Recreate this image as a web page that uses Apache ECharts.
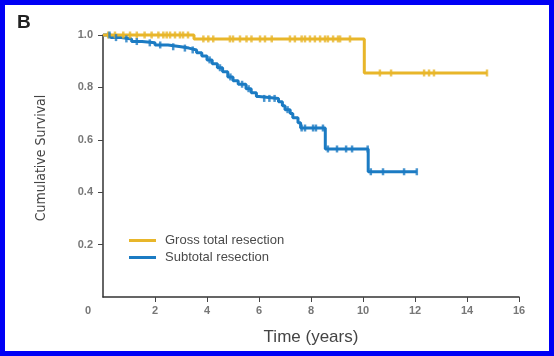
<!DOCTYPE html>
<html>
<head>
<meta charset="utf-8">
<script src="https://cdn.jsdelivr.net/npm/echarts@6/dist/echarts.min.js"></script>
<style>
  html, body { margin: 0; padding: 0; background: #0000f5; }
  #chart { position: absolute; left: 5px; top: 5px; width: 544px; height: 346px; background: #fff; }
</style>
</head>
<body>
<div id="chart"></div>
<script>
// tick labels
const xTicks = [0, 2, 4, 6, 8, 10, 12, 14, 16];
const xTickMarks = [2, 4, 6, 8, 10, 12, 14, 16];
const yTicks = [0.2, 0.4, 0.6, 0.8, 1.0];

// gross total resection: step times / survival after step
const gtrTimes = [0, 3.5, 10.05];
const gtrSurv = [1.0, 0.985, 0.855];
const gtrEnd = 14.77;
const gtrCensor = [0.2, 0.46, 0.78, 1.04, 1.3, 1.6, 1.87, 2.13, 2.32, 2.45, 2.58, 2.77, 2.96, 3.08, 3.27,
    3.86, 4.05, 4.24, 4.88, 5.0, 5.27, 5.52, 5.71, 6.04, 6.23, 6.49, 7.19, 7.38, 7.64, 7.77, 7.96,
    8.15, 8.35, 8.54, 8.65, 8.85, 9.04, 9.12, 9.5, 10.65, 11.08, 12.35, 12.54, 12.73, 14.77];

// subtotal resection
const strTimes = [0, 0.3, 0.7, 1.1, 1.5, 2.0, 2.5, 3.0, 3.3, 3.6, 3.8, 4.0, 4.2, 4.4, 4.6, 4.8, 5.0,
    5.2, 5.5, 5.7, 5.9, 6.0, 6.75, 6.9, 7.0, 7.2, 7.3, 7.5, 7.6, 8.55, 10.2];
const strSurv = [1.0, 0.99, 0.985, 0.975, 0.97, 0.962, 0.955, 0.95, 0.943, 0.932, 0.92, 0.905, 0.89,
    0.875, 0.86, 0.84, 0.825, 0.812, 0.795, 0.78, 0.765, 0.758, 0.745, 0.73, 0.715, 0.7, 0.684,
    0.665, 0.645, 0.565, 0.478];
const strEnd = 12.07;
const strCensor = [0.25, 0.5, 0.9, 1.3, 1.8, 2.2, 2.7, 3.15, 3.45, 4.1, 4.5, 4.9, 5.35, 5.6, 6.2, 6.4,
    6.6, 7.1, 7.64, 7.77, 8.08, 8.19, 8.46, 8.65, 9.0, 9.35, 9.58, 10.18, 10.3, 10.77, 11.58, 12.07];

const GOLD = '#E8B62A';
const BLUE = '#1B7BC3';

function stepData(times, surv, end) {
    const d = times.map((t, i) => [t, surv[i]]);
    d.push([end, surv[surv.length - 1]]);
    return d;
}
function survAt(times, surv, t) {
    let s = surv[0];
    for (let i = 0; i < times.length; i++) {
        if (times[i] <= t) s = surv[i];
    }
    return s;
}

const chart = echarts.init(document.getElementById('chart'));

chart.setOption({
    animation: false,
    title: {
        text: 'B', left: 7, top: 3,
        textStyle: {fontSize: 19, fontWeight: 'bold', color: '#222', fontFamily: 'Liberation Sans'}
    },
    grid: {left: 98, top: 30, width: 416, height: 263},
    legend: {
        orient: 'vertical', left: 119, top: 224, itemWidth: 27, itemHeight: 3, itemGap: 4,
        icon: 'rect',
        data: ['Gross total resection', 'Subtotal resection'],
        textStyle: {fontSize: 13, color: '#4a4a4a', fontFamily: 'Liberation Sans', padding: [0, 0, 0, 4]}
    },
    xAxis: {
        type: 'value', min: 0, max: 16, interval: 2,
        name: 'Time (years)', nameLocation: 'middle', nameGap: 32,
        nameTextStyle: {fontSize: 17, color: '#444', fontFamily: 'Liberation Sans'},
        axisLine: {lineStyle: {color: '#333', width: 1.5}},
        axisTick: {length: 5, customValues: xTickMarks, lineStyle: {color: '#444'}},
        axisLabel: {
            customValues: xTicks, margin: 8, color: '#777', fontWeight: 'bold', fontSize: 11,
            fontFamily: 'Liberation Sans',
            formatter: v => v === 0 ? '{z|0}' : String(v),
            rich: {z: {padding: [0, 30, 0, 0], color: '#777', fontWeight: 'bold', fontSize: 11}}
        },
        splitLine: {show: false}
    },
    yAxis: {
        type: 'value', min: 0, max: 1, interval: 0.2,
        name: 'Cumulative Survival', nameLocation: 'middle', nameGap: 55,
        nameTextStyle: {
            fontSize: 14, color: '#444', padding: [0, 0, 0, 16],
            fontFamily: "'DejaVu Sans Condensed', 'Roboto Condensed', Roboto, sans-serif"
        },
        axisLine: {show: true, lineStyle: {color: '#333', width: 1.5}},
        axisTick: {show: true, length: 5, customValues: yTicks, lineStyle: {color: '#444'}},
        axisLabel: {
            customValues: yTicks, margin: 10, color: '#777', fontWeight: 'bold', fontSize: 11,
            fontFamily: 'Liberation Sans', formatter: v => v.toFixed(1)
        },
        splitLine: {show: false}
    },
    series: [
        {
            name: 'Gross total resection', type: 'line', step: 'end', showSymbol: false, clip: false,
            color: GOLD, lineStyle: {width: 3, color: GOLD}, z: 3,
            data: stepData(gtrTimes, gtrSurv, gtrEnd)
        },
        {
            name: 'Subtotal resection', type: 'line', step: 'end', showSymbol: false, clip: false,
            color: BLUE, lineStyle: {width: 3, color: BLUE}, z: 2,
            data: stepData(strTimes, strSurv, strEnd)
        },
        {
            name: 'gtr-censor', type: 'scatter', symbol: 'rect', symbolSize: [2.5, 7], z: 4,
            itemStyle: {color: GOLD},
            data: gtrCensor.map(t => [t, survAt(gtrTimes, gtrSurv, t)])
        },
        {
            name: 'str-censor', type: 'scatter', symbol: 'rect', symbolSize: [2.5, 7], z: 4,
            itemStyle: {color: BLUE},
            data: strCensor.map(t => [t, survAt(strTimes, strSurv, t)])
        }
    ]
});
</script>
</body>
</html>
